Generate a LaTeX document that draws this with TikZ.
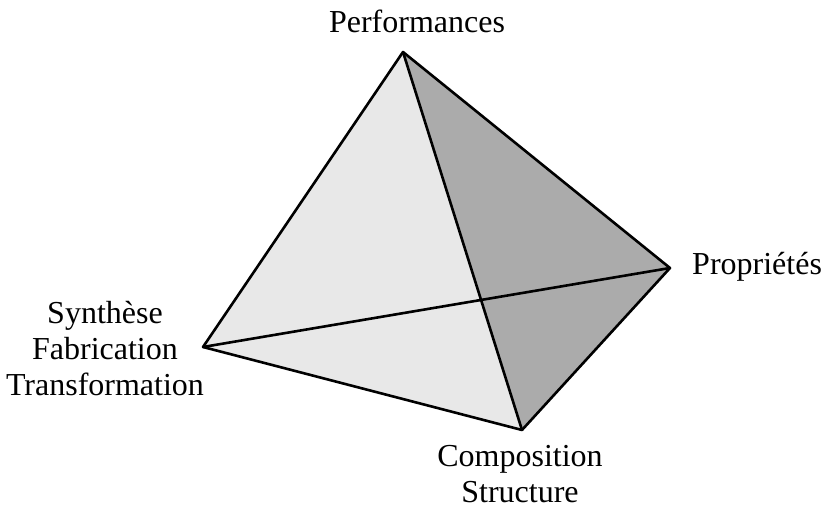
\documentclass[tikz,border=0pt]{standalone}
\usepackage{fontspec}
\setmainfont{Liberation Serif}
\usepackage{tikz}

\tikzset{
    label text/.style={font=\fontsize{32}{36}\selectfont, align=center, inner sep=0pt},
    edge line/.style={line width=2.6pt, line join=round},
}

\begin{document}
\begin{tikzpicture}[x=1pt, y=-1pt]
        \useasboundingbox (0,0) rectangle (824,510);
        \coordinate (perf) at (403,52);
        \coordinate (prop) at (670,268);
        \coordinate (synth) at (203,347);
        \coordinate (comp) at (522,430);
        % faces
        \fill[black!9] (perf) -- (synth) -- (comp) -- cycle;
        \fill[black!33] (perf) -- (prop) -- (comp) -- cycle;
        % edges
        \draw[edge line] (perf) -- (synth) -- (comp) -- (prop) -- cycle;
        \draw[edge line] (perf) -- (comp);
        \draw[edge line] (synth) -- (prop);
        % labels
        \node[label text, anchor=base] (perflabel) at (417,33) {Performances};
        \node[label text, anchor=base west] (proplabel) at (692,275) {Propriétés};
        \node[label text] (synthlabel) at (105,349) {Synthèse\\Fabrication\\Transformation};
        \node[label text] (complabel) at (520,474) {Composition\\Structure};
\end{tikzpicture}
\end{document}
